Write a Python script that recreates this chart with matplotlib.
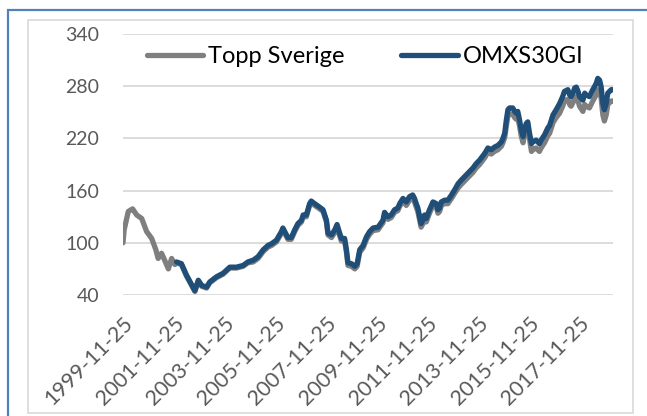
import matplotlib.pyplot as plt
import matplotlib.dates as mdates
import numpy as np
import pandas as pd
from matplotlib.patches import Rectangle

# Data (index values)
early_dates = ["1999-11-25", "1999-12-12", "2000-02-09", "2000-04-11", "2000-06-09",
               "2000-08-20", "2000-10-30", "2001-01-11", "2001-02-03", "2001-03-12",
               "2001-04-14", "2001-06-02", "2001-07-17", "2001-09-08", "2001-10-25",
               "2001-12-12"]
early_topp = [100, 115, 136, 139, 132, 128, 113, 105, 100, 92, 82, 88, 80, 70, 82, 75]

dates = [
    "2002-01-04", "2002-03-15", "2002-05-26", "2002-08-09", "2002-09-25", "2002-11-13",
    "2003-01-01", "2003-03-12", "2003-04-27", "2003-08-03", "2003-11-06",
    "2004-02-09", "2004-05-16", "2004-08-20", "2004-10-27",
    "2005-01-11", "2005-03-22", "2005-06-05", "2005-08-13", "2005-10-04", "2005-12-12",
    "2006-02-23", "2006-03-15", "2006-04-24", "2006-05-26", "2006-07-14", "2006-09-02",
    "2006-10-17", "2006-12-08",
    "2007-01-01", "2007-02-16", "2007-04-04", "2007-04-27", "2007-06-15", "2007-08-26",
    "2007-10-14", "2007-12-02", "2007-12-25",
    "2008-02-13", "2008-04-01", "2008-05-03", "2008-06-02", "2008-07-04", "2008-08-20",
    "2008-09-15", "2008-10-07", "2008-11-26",
    "2009-01-14", "2009-02-16", "2009-03-25", "2009-05-13", "2009-07-01", "2009-08-16",
    "2009-10-04", "2009-12-15",
    "2010-02-23", "2010-03-18", "2010-05-06", "2010-06-22", "2010-08-09", "2010-09-25",
    "2010-10-22", "2010-12-08",
    "2011-01-25", "2011-03-12", "2011-04-27", "2011-05-23", "2011-06-17", "2011-07-10",
    "2011-08-06", "2011-08-26", "2011-09-21", "2011-10-14", "2011-11-09", "2011-12-25",
    "2012-02-13", "2012-04-01", "2012-04-24", "2012-05-19", "2012-06-12", "2012-07-29",
    "2012-09-15", "2012-11-06", "2012-12-22",
    "2013-02-09", "2013-03-25", "2013-05-13", "2013-07-24", "2013-09-11", "2013-10-27",
    "2013-12-15",
    "2014-03-01", "2014-04-14", "2014-06-02", "2014-07-17", "2014-09-05", "2014-10-25",
    "2014-11-16", "2014-12-12",
    "2015-01-04", "2015-01-27", "2015-02-19", "2015-04-07", "2015-05-03", "2015-05-27",
    "2015-06-18", "2015-07-14", "2015-08-06", "2015-09-02", "2015-09-21", "2015-10-17",
    "2015-11-09", "2015-12-04",
    "2016-01-01", "2016-01-21", "2016-03-08", "2016-04-24", "2016-05-19", "2016-07-07",
    "2016-08-23", "2016-09-19", "2016-11-06", "2016-12-22",
    "2017-02-09", "2017-03-25", "2017-04-20", "2017-06-08", "2017-07-04", "2017-07-24",
    "2017-08-20", "2017-09-15", "2017-10-07", "2017-11-02", "2017-11-23",
    "2018-01-11", "2018-02-06", "2018-02-26", "2018-04-14", "2018-06-02", "2018-07-20",
    "2018-08-13", "2018-09-08", "2018-10-01", "2018-10-25", "2018-11-16", "2018-12-12",
    "2019-01-04", "2019-02-23", "2019-03-15",
]

omx = [
    78, 76, 63, 52, 45, 57,
    51, 49, 55, 61, 65,
    72, 72, 74, 78,
    80, 84, 92, 97, 99, 103,
    113, 117, 111, 106, 106, 115, 122, 126,
    132, 132, 145, 148, 145, 141, 138, 126, 111,
    109, 115, 121, 113, 105, 105, 92, 77, 76,
    73, 76, 92, 97, 107, 113, 117, 118,
    126, 135, 130, 132, 138, 140, 145, 151,
    147, 153, 155, 151, 145, 140, 130, 122, 126, 132, 128, 138,
    147, 145, 138, 140, 147, 149, 149, 155, 161,
    168, 172, 176, 182, 186, 191, 195,
    203, 209, 207, 210, 212, 216, 220, 226,
    241, 253, 255, 255, 251, 249, 251, 241, 230, 222, 230, 237, 239, 226,
    214, 216, 218, 214, 218, 224, 232, 235, 247, 253,
    260, 268, 274, 276, 270, 268, 272, 278, 279, 274, 268,
    264, 272, 270, 268, 276, 283, 289, 287, 279, 260, 253, 260,
    272, 276, 276,
]

topp = [
    77, 75, 62, 51, 44, 56,
    50, 48, 54, 60, 64,
    71, 71, 73, 77,
    78, 82, 90, 95, 97, 101,
    111, 115, 109, 104, 104, 113, 120, 124,
    130, 130, 143, 146, 143, 139, 136, 124, 109,
    106, 112, 118, 110, 102, 102, 89, 74, 73,
    70, 73, 89, 94, 104, 110, 114, 115,
    123, 132, 127, 129, 135, 137, 142, 148,
    143, 149, 151, 147, 141, 136, 126, 118, 122, 128, 124, 134,
    143, 141, 134, 136, 143, 145, 145, 151, 157,
    163, 167, 171, 177, 181, 186, 190,
    198, 204, 202, 205, 207, 211, 215, 221,
    234, 246, 248, 248, 244, 242, 244, 234, 223, 215, 223, 230, 232, 219,
    205, 207, 209, 205, 209, 215, 223, 226, 238, 244,
    249, 257, 263, 265, 259, 257, 261, 267, 268, 263, 257,
    251, 259, 257, 255, 263, 270, 276, 274, 266, 247, 240, 247,
    259, 263, 263,
]

tick_dates = ["1999-11-25", "2001-11-25", "2003-11-25", "2005-11-25", "2007-11-25",
              "2009-11-25", "2011-11-25", "2013-11-25", "2015-11-25", "2017-11-25"]
y_ticks = [40, 100, 160, 220, 280, 340]

GRAY = "#7F7F7F"
BLUE = "#1F4E79"
TXT = "#595959"

plt.rcParams["font.family"] = ["Lato", "DejaVu Sans"]

fig = plt.figure(figsize=(6.47, 4.16), dpi=100)
ax = fig.add_axes([123 / 647, 121 / 416, 490 / 647, 261 / 416])

topp_x = pd.to_datetime(early_dates + dates)
omx_x = pd.to_datetime(dates)
ax.plot(topp_x, early_topp + topp, color=GRAY, lw=3.8,
        solid_joinstyle="round", solid_capstyle="round", label="Topp Sverige")
ax.plot(omx_x, omx, color=BLUE, lw=3.8,
        solid_joinstyle="round", solid_capstyle="round", label="OMXS30GI")

ax.set_ylim(40, 340)
ax.set_yticks(y_ticks)
ax.set_xlim(pd.Timestamp("1999-11-25"), pd.Timestamp("2019-03-20"))
ax.set_xticks(pd.to_datetime(tick_dates))
ax.set_xticklabels(tick_dates, rotation=45, ha="right", va="top",
                   rotation_mode="anchor")
ax.tick_params(axis="y", length=0, pad=17, labelsize=14, labelcolor=TXT)
ax.tick_params(axis="x", length=0, pad=13, labelsize=15.5, labelcolor=TXT)
ax.grid(axis="y", color="#D9D9D9", lw=1.3)
ax.set_axisbelow(True)
for s in ax.spines.values():
    s.set_visible(False)

leg = ax.legend(ncol=2, loc="center", bbox_to_anchor=(0.494, 0.912),
                frameon=False, fontsize=17, handlelength=2.4,
                handletextpad=0.2, columnspacing=2.4)
for h in leg.get_lines():
    h.set_solid_capstyle("round")

# chart frames
fig.patches.append(Rectangle((28 / 647, 3 / 416), 605 / 647, 393 / 416,
                             transform=fig.transFigure, fill=False,
                             ec="#D9D9D9", lw=1.2))
fig.patches.append(Rectangle((8 / 647, -0.2), 1.2, 406 / 416 + 0.2,
                             transform=fig.transFigure, fill=False,
                             ec="#4F81BD", lw=1.6))

fig.savefig("out.png", dpi=100)
